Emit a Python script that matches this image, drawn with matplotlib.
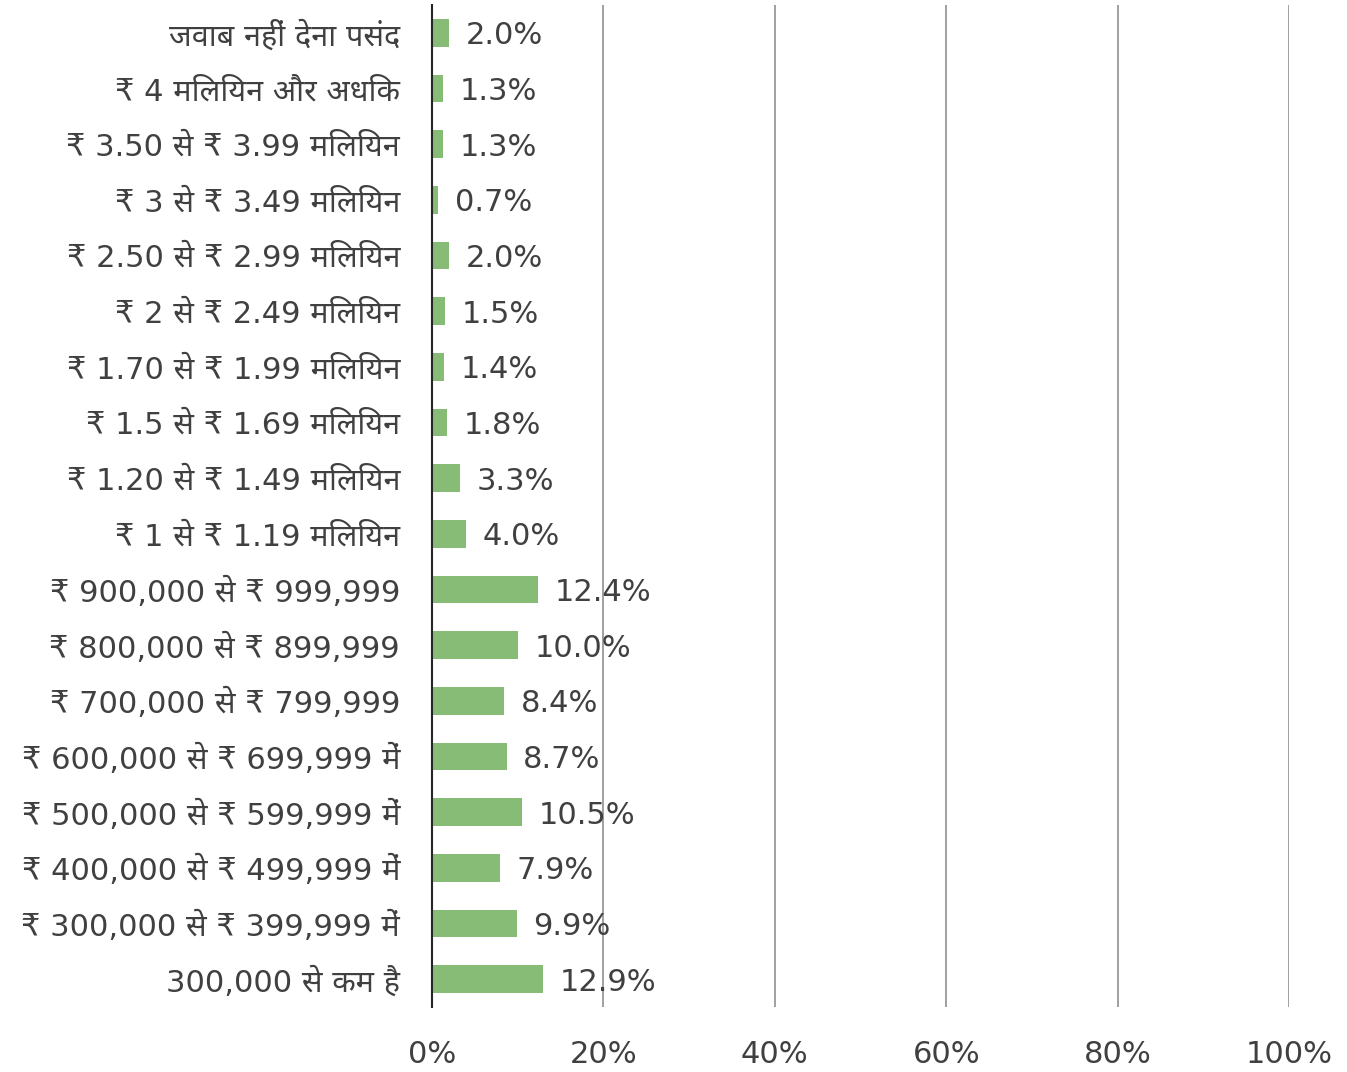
import matplotlib
matplotlib.use("Agg")
import matplotlib.pyplot as plt

# income brackets, listed top to bottom as they appear on the chart
categories = [
    "जवाब नहीं देना पसंद",
    "₹ 4 मिलियन और अधिक",
    "₹ 3.50 से ₹ 3.99 मिलियन",
    "₹ 3 से ₹ 3.49 मिलियन",
    "₹ 2.50 से ₹ 2.99 मिलियन",
    "₹ 2 से ₹ 2.49 मिलियन",
    "₹ 1.70 से ₹ 1.99 मिलियन",
    "₹ 1.5 से ₹ 1.69 मिलियन",
    "₹ 1.20 से ₹ 1.49 मिलियन",
    "₹ 1 से ₹ 1.19 मिलियन",
    "₹ 900,000 से ₹ 999,999",
    "₹ 800,000 से ₹ 899,999",
    "₹ 700,000 से ₹ 799,999",
    "₹ 600,000 से ₹ 699,999 में",
    "₹ 500,000 से ₹ 599,999 में",
    "₹ 400,000 से ₹ 499,999 में",
    "₹ 300,000 से ₹ 399,999 में",
    "300,000 से कम है",
]
shares = [2.0, 1.3, 1.3, 0.7, 2.0, 1.5, 1.4, 1.8, 3.3, 4.0,
          12.4, 10.0, 8.4, 8.7, 10.5, 7.9, 9.9, 12.9]
xticks = [0, 20, 40, 60, 80, 100]

# DejaVu for latin digits, a devanagari family picks up the rest
plt.rcParams['font.family'] = ['DejaVu Sans', 'Noto Sans Devanagari', 'Hind']
text_color = "#404040"
fsize = 22

fig = plt.figure(figsize=(13.47, 10.72), dpi=100)
ax = fig.add_axes([432 / 1347, 1 - 1007 / 1072, (1289 - 432) / 1347, 1002 / 1072])

ypos = list(range(len(categories)))
bars = ax.barh(ypos, shares, height=0.5, color="#86BC76", zorder=3)

for b, v in zip(bars, shares):
    ax.annotate(f"{v:.1f}%", (b.get_width(), b.get_y() + b.get_height() / 2),
                xytext=(12, 0), textcoords="offset points",
                ha="left", va="center_baseline", fontsize=fsize,
                color=text_color, zorder=4)

ax.set_xlim(0, 100)
ax.set_ylim(len(categories) - 0.5, -0.5)
ax.set_xticks(xticks)
ax.set_xticklabels([f"{t}%" for t in xticks])
ax.set_yticks(ypos)
ax.set_yticklabels(categories, va="center_baseline")
ax.tick_params(axis="both", length=0, labelsize=fsize, labelcolor=text_color)
ax.tick_params(axis="y", pad=23)
ax.tick_params(axis="x", pad=24)

ax.grid(axis="x", color="#A0A0A0", linewidth=1.4, zorder=0)
for side in ["top", "right", "bottom"]:
    ax.spines[side].set_visible(False)
ax.spines["left"].set_color("#262626")
ax.spines["left"].set_linewidth(1.5)
ax.spines["left"].set_zorder(5)

fig.savefig("out.png")
